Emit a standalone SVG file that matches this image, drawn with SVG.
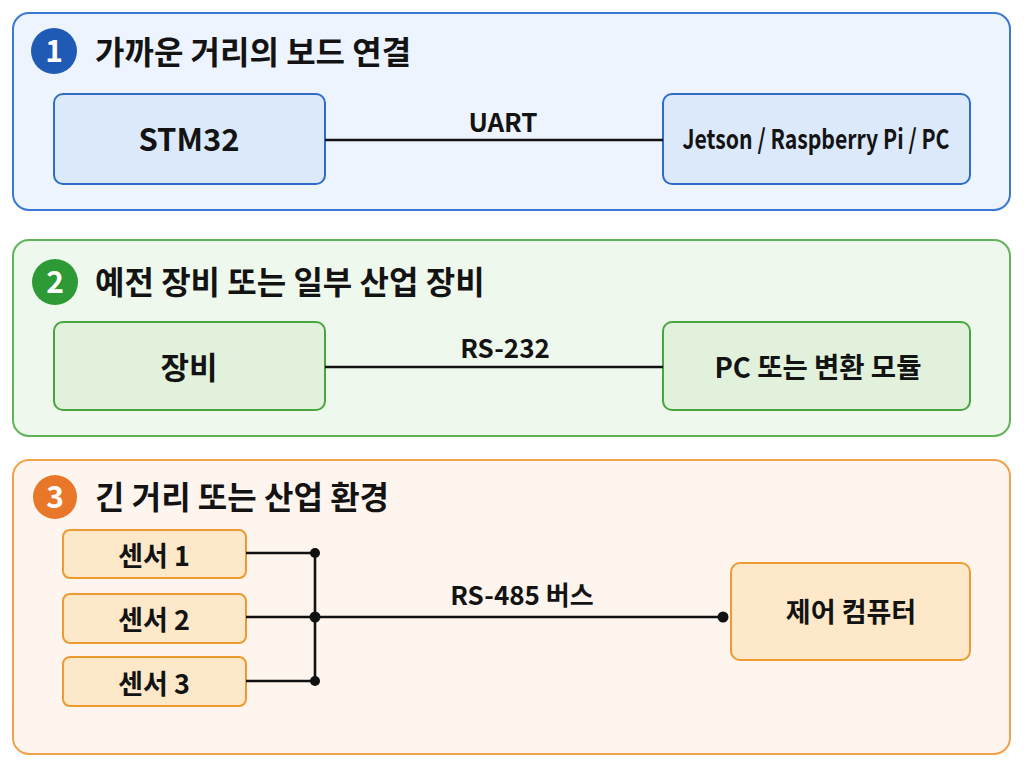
<svg xmlns="http://www.w3.org/2000/svg" width="1024" height="768" viewBox="0 0 1024 768">
<style>
text{font-family:"Noto Sans CJK KR","Noto Sans",sans-serif;font-weight:700;fill:#131313}
.title{font-size:32px}
.lbl{font-size:31px;text-anchor:middle}
.sm{font-size:27px;text-anchor:middle}
.edge{font-size:26px;text-anchor:middle}
.badge{font-size:30px;fill:#fff;text-anchor:middle}
.wire{stroke:#111;stroke-width:2.6;fill:none}
.dot{fill:#111}
.p1{fill:#edf4fd;stroke:#3a78d4;stroke-width:2}
.n1{fill:#dbe9fa;stroke:#2f6cc8;stroke-width:2}
.p2{fill:#eff8ed;stroke:#5fb457;stroke-width:2}
.n2{fill:#e1f1dc;stroke:#4aa43f;stroke-width:2}
.p3{fill:#fdf5ee;stroke:#f0a24e;stroke-width:2}
.n3{fill:#fde9c9;stroke:#ef9a30;stroke-width:2}
</style>
<rect width="1024" height="768" fill="#ffffff"/>

<g id="panel1">
<rect class="p1" x="13" y="13" width="997" height="197" rx="16"/>
<circle cx="54" cy="51" r="23" fill="#1f5bb5"/>
<text class="badge" x="54" y="62">1</text>
<text class="title" x="95" y="64">가까운 거리의 보드 연결</text>
</g>
<g id="stm32">
<rect class="n1" x="54" y="94" width="271" height="90" rx="9"/>
<text class="lbl" x="189" y="151">STM32</text>
</g>
<g id="jetson">
<rect class="n1" x="663" y="94" width="307" height="90" rx="9"/>
<text x="816" y="149" font-size="27" text-anchor="middle" textLength="267" lengthAdjust="spacingAndGlyphs">Jetson / Raspberry Pi / PC</text>
</g>

<g id="panel2">
<rect class="p2" x="13" y="240" width="997" height="196" rx="16"/>
<circle cx="55" cy="282" r="23" fill="#2e9a35"/>
<text class="badge" x="55" y="293">2</text>
<text class="title" x="95" y="294">예전 장비 또는 일부 산업 장비</text>
</g>
<g id="device">
<rect class="n2" x="54" y="322" width="271" height="88" rx="9"/>
<text class="lbl" x="189" y="379">장비</text>
</g>
<g id="pc">
<rect class="n2" x="663" y="322" width="307" height="88" rx="9"/>
<text x="818" y="378" font-size="28" text-anchor="middle" textLength="207" lengthAdjust="spacingAndGlyphs">PC 또는 변환 모듈</text>
</g>

<g id="panel3">
<rect class="p3" x="13" y="460" width="997" height="294" rx="16"/>
<circle cx="55" cy="497" r="22" fill="#e8772a"/>
<text class="badge" x="55" y="508">3</text>
<text class="title" x="95" y="509">긴 거리 또는 산업 환경</text>
</g>
<g id="sensor1">
<rect class="n3" x="63" y="530" width="183" height="48" rx="7"/>
<text class="sm" x="154" y="566">센서 1</text>
</g>
<g id="sensor2">
<rect class="n3" x="63" y="594" width="183" height="49" rx="7"/>
<text class="sm" x="154" y="630">센서 2</text>
</g>
<g id="sensor3">
<rect class="n3" x="63" y="657" width="183" height="49" rx="7"/>
<text class="sm" x="154" y="694">센서 3</text>
</g>
<g id="controller">
<rect class="n3" x="731" y="563" width="239" height="97" rx="9"/>
<text class="sm" x="851" y="622">제어 컴퓨터</text>
</g>

<g id="connectors">
<line class="wire" x1="325" y1="140" x2="663" y2="140"/>
<text class="edge" x="503" y="132">UART</text>
<line class="wire" x1="325" y1="367" x2="663" y2="367"/>
<text class="edge" x="505" y="358">RS-232</text>
<line class="wire" x1="246" y1="553" x2="315" y2="553"/>
<line class="wire" x1="246" y1="617" x2="315" y2="617"/>
<line class="wire" x1="246" y1="681" x2="315" y2="681"/>
<line class="wire" x1="315" y1="553" x2="315" y2="681"/>
<line class="wire" x1="315" y1="617" x2="723" y2="617"/>
<circle class="dot" cx="315" cy="553" r="5"/>
<circle class="dot" cx="315" cy="617" r="5.5"/>
<circle class="dot" cx="315" cy="681" r="5"/>
<circle class="dot" cx="723" cy="617" r="5.5"/>
<text class="edge" x="522" y="605" font-size="27">RS-485 버스</text>
</g>
</svg>
